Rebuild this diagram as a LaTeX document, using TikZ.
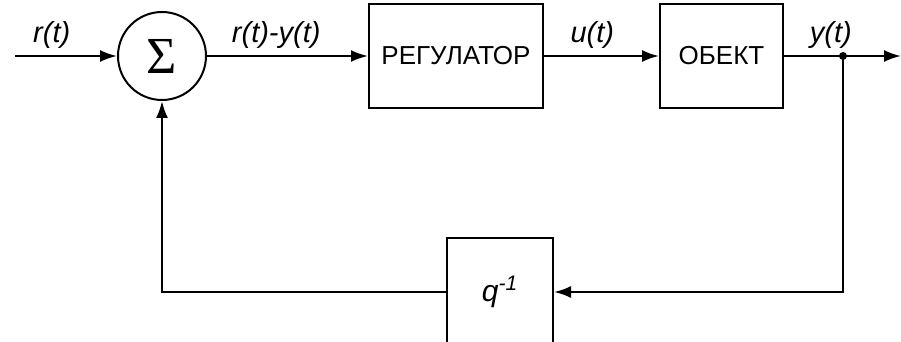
\documentclass[tikz,border=0pt]{standalone}
\usepackage{fontspec}
\setmainfont{Liberation Sans}
\newfontfamily\sigmafont{Liberation Serif}
\usetikzlibrary{positioning}
\usetikzlibrary{arrows.meta}
\tikzset{x=0.5pt, y=-0.5pt,
every node/.style={font=\fontsize{13}{15}\selectfont},
sumnode/.style={ % summing junction
draw, circle, line width=1pt,
minimum size=44pt, inner sep=0pt,
font=\fontsize{26}{26}\sigmafont},
blockbox/.style={ % transfer blocks
draw, line width=1pt,
minimum height=52pt},
siglabel/.style={font=\fontsize{14.5}{16}\selectfont\itshape, inner sep=3pt},
every edge/.style={ % signal lines
draw,
-{Latex[length=8.5pt,width=6pt]},
auto,
line width=1.1pt}}

\begin{document}
\begin{tikzpicture}
\useasboundingbox (0,0) rectangle (901,342);
\node[sumnode] (sum) at (162,56) {Σ};
\node[blockbox, minimum width=87pt] (reg) at (456,56) {РЕГУЛАТОР};
\node[blockbox, minimum width=61.5pt] (obj) at (721.5,56) {ОБЕКТ};
\node[blockbox, minimum width=53pt, minimum height=54pt,
  font=\fontsize{15}{17}\selectfont] (delay) at (500,292)
  {\textit{q}\textsuperscript{\textit{-1}}};
\coordinate (in) at (15,56);
\coordinate (out) at (901,56);
\coordinate (split) at (843,56);
\draw (in) edge node[siglabel, pos=0.36]{r(t)} (sum);
\draw (sum) edge node[siglabel, pos=0.43]{r(t)-y(t)} (reg);
\draw (reg) edge node[siglabel, pos=0.42]{u(t)} (obj);
\draw (obj) edge node[siglabel, pos=0.4]{y(t)} (out);
\fill (split) circle (4);
\draw[line width=1.1pt, -{Latex[length=8.5pt,width=6pt]}] (split) |- (delay);
\draw[line width=1.1pt, -{Latex[length=8.5pt,width=6pt]}] (delay) -| (sum);
\end{tikzpicture}
\end{document}
